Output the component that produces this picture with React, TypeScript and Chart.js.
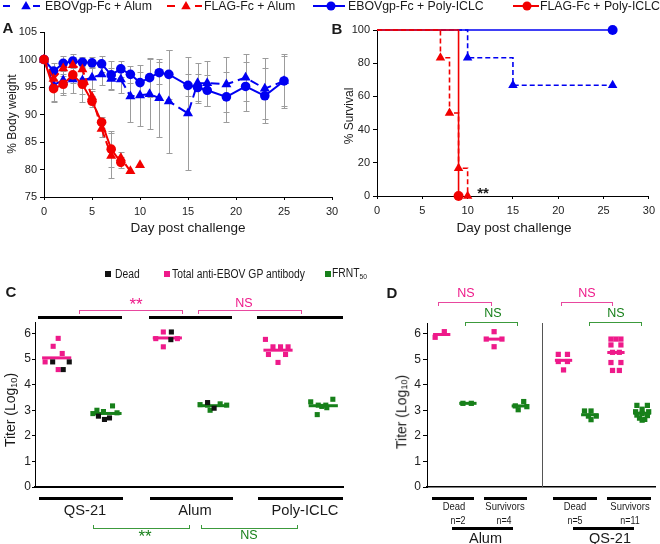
import React, { useEffect, useRef } from 'react';
import { Chart, registerables } from 'chart.js';

Chart.register(...registerables);

type Pt = [number, number]; // [value, horizontal jitter]

// ---------- Panel A: % body weight ----------
const daysEbov = [0, 1, 2, 3, 4, 5, 6, 7, 8, 9, 10, 11, 12, 13, 15, 16, 17, 19, 21, 23, 25];
const ebovAlumWeight = [100, 95.4, 96.2, 96.4, 96.2, 96.7, 97.3, 96.5, 96.4, 93.3, 93.5, 93.7, 93.0, 92.4, 90.2, 95.7, 95.7, 95.5, 96.7, 94.7, 96.1];
const ebovAlumSd = [0, 3.0, 2.6, 2.5, 2.5, 2.0, 2.0, 2.0, 2.5, 4.7, 5.5, 6.4, 7.0, 9.4, 10.3, 3.6, 4.1, 5.0, 4.3, 5.6, 4.5];
const ebovPolyWeight = [100, 97.9, 99.3, 99.7, 99.5, 99.4, 99.2, 97.2, 98.3, 97.3, 95.8, 96.7, 97.6, 97.3, 95.3, 94.9, 94.4, 93.2, 95.1, 93.4, 96.1];
const ebovPolySd = [0, 1.5, 1.4, 1.3, 1.0, 1.0, 1.5, 2.5, 1.5, 1.5, 2.0, 3.5, 2.0, 4.5, 2.0, 2.5, 2.8, 4.5, 4.5, 5.0, 4.9];
const daysFlagAlum = [0, 1, 2, 3, 4, 5, 6, 7, 8, 9, 10];
const flagAlumWeight = [100, 96.5, 98.4, 99.0, 98.2, 93.2, 87.4, 82.5, 82.1, 79.7, 80.8];
const flagAlumSd = [0, 1.5, 1.0, 1.5, 1.5, 1.0, 1.5, 4.1, 1.0, 0, 0];
const flagAlumLastLinked = 9; // day-10 point is drawn without a connecting line
const daysFlagPoly = [0, 1, 2, 3, 4, 5, 6, 7, 8];
const flagPolyWeight = [100, 94.7, 95.5, 97.2, 95.5, 92.4, 88.6, 83.7, 81.3];
const flagPolySd = [0, 2.5, 1.5, 1.5, 3.3, 1.0, 1.0, 3.3, 1.0];

// ---------- Panel B: % survival ----------
const survDaysEbovPoly = [0, 26];
const survEbovPoly = [100, 100];
const survDaysEbovAlum = [0, 10, 15, 26];
const survEbovAlum = [100, 83.3, 66.7, 66.7];
const survDaysFlagPoly = [0, 9];
const survFlagPoly = [100, 0];
const survDaysFlagAlum = [0, 7, 8, 9, 10];
const survFlagAlum = [100, 83.3, 50, 16.7, 0];

// ---------- Panel C: titers by adjuvant ----------
const cGroupNames = ['QS-21', 'Alum', 'Poly-ICLC'];
const cPositions = [0, 1, 2.2, 3.1, 4.4, 5.3];
const cAbQS21: Pt[] = [[5.81, 0.03], [5.5, -0.07], [5.22, 0.11], [4.89, -0.23], [4.59, 0.03]];
const cAbQS21Dead: Pt[] = [[4.89, -0.08], [4.89, 0.25], [4.59, 0.13]];
const cNtQS21: Pt[] = [[3.17, 0.11], [3.0, -0.2], [2.95, -0.07], [2.9, 0.2], [2.87, -0.28]];
const cNtQS21Dead: Pt[] = [[2.77, -0.17], [2.64, -0.05], [2.7, 0.05]];
const cAbAlum: Pt[] = [[6.06, -0.08], [5.8, -0.23], [5.8, 0.2], [5.48, -0.08]];
const cAbAlumDead: Pt[] = [[6.06, 0.08], [5.76, 0.07]];
const cNtAlum: Pt[] = [[3.22, -0.25], [3.2, -0.1], [3.25, 0.15], [3.2, 0.28], [3.0, -0.05]];
const cNtAlumDead: Pt[] = [[3.3, -0.1], [3.08, 0.03]];
const cAbPoly: Pt[] = [[5.77, -0.25], [5.48, -0.1], [5.48, 0.05], [5.48, 0.2], [5.18, -0.19], [5.18, 0.15], [4.87, 0]];
const cNtPoly: Pt[] = [[3.43, 0.19], [3.33, -0.25], [3.2, -0.1], [3.2, 0.05], [3.15, -0.03], [3.1, 0.07], [2.83, -0.12]];

// ---------- Panel D: dead vs survivors ----------
const dPositions = [0, 1, 2, 3, 4.65, 5.65, 6.65, 7.65];
const dAbAlumDead: Pt[] = [[5.87, -0.25], [6.09, 0.1]];
const dNtAlumDead: Pt[] = [[3.28, -0.19], [3.28, 0.13]];
const dAbAlumSurv: Pt[] = [[6.09, 0], [5.8, -0.3], [5.8, 0.3], [5.5, 0]];
const dNtAlumSurv: Pt[] = [[3.35, 0.13], [3.18, -0.19], [3.15, 0.25], [3.03, -0.08]];
const dAbQSDead: Pt[] = [[5.2, -0.2], [5.2, 0.15], [4.92, -0.2], [4.92, 0.15], [4.59, 0]];
const dNtQSDead: Pt[] = [[2.98, -0.2], [2.98, 0.05], [2.78, -0.05], [2.78, 0.25], [2.64, 0.05]];
const dAbQSSurv: Pt[] = [[5.8, -0.19], [5.8, 0], [5.8, 0.19], [5.57, -0.19], [5.57, 0.19], [5.28, -0.13], [5.28, 0.13], [4.88, -0.19], [4.88, 0.19], [4.57, -0.13], [4.57, 0.13]];
const dNtQSSurv: Pt[] = [[3.2, -0.2], [3.2, 0.2], [3.05, 0], [2.95, -0.25], [2.95, 0.25], [2.88, 0], [2.82, -0.2], [2.8, 0.2], [2.7, -0.1], [2.65, 0.1], [2.62, 0]];

// ---------- styles ----------
const FONT = '"Liberation Sans", Arial, Helvetica, sans-serif';
const BLUE = '#0000F2';
const RED = '#F20000';
const PINK = '#EE1A8A';
const GREEN = '#17801A';
const PINK_LINE = '#E8479E';
const GREEN_LINE = '#3C9A3C';
const GRAY = '#9C9C9C';
const TXT = '#1a1a1a';
const W = 660;
const H = 544;

const xy = (xs: number[], ys: number[]) => xs.map((x, i) => ({ x, y: ys[i] }));
const jit = (pos: number, pts: Pt[]) => pts.map(([v, j]) => ({ x: pos + j, y: v }));
const meanOf = (pts: Pt[]) => pts.reduce((s, p) => s + p[0], 0) / pts.length;

const baseOptions = (pad: any) => ({
  responsive: false,
  animation: false,
  events: [],
  layout: { padding: pad },
  plugins: { legend: { display: false }, tooltip: { enabled: false } },
});

const yAxis = (min: number, max: number, step: number, width: number, size: number, tl: number, pad: number) => ({
  type: 'linear',
  position: 'left',
  min,
  max,
  afterFit: (s: any) => { s.width = width; },
  ticks: { stepSize: step, includeBounds: false, font: { family: FONT, size }, color: '#222', padding: pad },
  grid: { display: true, drawOnChartArea: false, drawTicks: true, tickLength: tl, color: '#000', lineWidth: 1 },
  border: { display: true, color: '#000', width: 1 },
});

const xDayAxis = () => ({
  type: 'linear',
  position: 'bottom',
  min: 0,
  max: 30,
  afterFit: (s: any) => { s.height = 30; },
  ticks: { stepSize: 5, font: { family: FONT, size: 11 }, color: '#222', padding: 5, maxRotation: 0, autoSkip: false },
  grid: { display: true, drawOnChartArea: false, drawTicks: true, tickLength: 3, color: '#000', lineWidth: 1 },
  border: { display: true, color: '#000', width: 1 },
});

const xHiddenAxis = (min: number, max: number, bw: number) => ({
  type: 'linear',
  position: 'bottom',
  min,
  max,
  afterFit: (s: any) => { s.height = 2; },
  ticks: { display: false },
  grid: { display: false },
  border: { display: true, color: '#000', width: bw },
});

const errorBarPlugin = {
  id: 'errorBars',
  beforeDatasetsDraw(chart: any) {
    const ctx = chart.ctx;
    const ys = chart.scales.y;
    ctx.save();
    ctx.strokeStyle = GRAY;
    ctx.lineWidth = 1;
    chart.data.datasets.forEach((ds: any, i: number) => {
      const errs = ds.errors;
      if (!errs) return;
      const meta = chart.getDatasetMeta(i);
      meta.data.forEach((el: any, j: number) => {
        const e = errs[j];
        if (!e) return;
        const v = ds.data[j].y;
        const x = Math.round(el.x) + 0.5;
        const t = Math.round(ys.getPixelForValue(v + e)) + 0.5;
        const b = Math.round(ys.getPixelForValue(v - e)) + 0.5;
        ctx.beginPath();
        ctx.moveTo(x, t); ctx.lineTo(x, b);
        ctx.moveTo(x - 3, t); ctx.lineTo(x + 3, t);
        ctx.moveTo(x - 3, b); ctx.lineTo(x + 3, b);
        ctx.stroke();
      });
    });
    ctx.restore();
  },
};

const makeMeanPlugin = (items: { x: number; y: number; color: string }[], half: number, width: number, divider?: number) => ({
  id: 'meanLines',
  beforeDatasetsDraw(chart: any) {
    const { ctx, scales, chartArea } = chart;
    const xs = scales.x, ys = scales.y;
    ctx.save();
    if (divider !== undefined) {
      const dx = Math.round(xs.getPixelForValue(divider)) + 0.5;
      ctx.strokeStyle = '#555';
      ctx.lineWidth = 1;
      ctx.beginPath();
      ctx.moveTo(dx, chartArea.top);
      ctx.lineTo(dx, chartArea.bottom);
      ctx.stroke();
    }
    ctx.lineWidth = width;
    items.forEach((it) => {
      const yp = ys.getPixelForValue(it.y);
      ctx.strokeStyle = it.color;
      ctx.beginPath();
      ctx.moveTo(xs.getPixelForValue(it.x - half), yp);
      ctx.lineTo(xs.getPixelForValue(it.x + half), yp);
      ctx.stroke();
    });
    ctx.restore();
  },
});

// ---------- chart configs ----------
const configA = () => ({
  type: 'line',
  data: {
    datasets: [
      { data: xy(daysFlagPoly, flagPolyWeight), errors: flagPolySd, borderColor: RED, backgroundColor: RED, pointStyle: 'circle', pointRadius: 4.8, pointBorderWidth: 0, borderWidth: 2, order: 0, clip: false },
      {
        data: xy(daysFlagAlum, flagAlumWeight), errors: flagAlumSd, borderColor: RED, backgroundColor: RED, pointStyle: 'triangle', pointRadius: 5.8, pointBorderWidth: 0, borderWidth: 2, borderDash: [7, 4], order: 1, clip: false,
        segment: { borderColor: (c: any) => (daysFlagAlum[c.p1DataIndex] > flagAlumLastLinked ? 'rgba(0,0,0,0)' : RED) },
      },
      { data: xy(daysEbov, ebovPolyWeight), errors: ebovPolySd, borderColor: BLUE, backgroundColor: BLUE, pointStyle: 'circle', pointRadius: 4.8, pointBorderWidth: 0, borderWidth: 2, order: 2, clip: false },
      { data: xy(daysEbov, ebovAlumWeight), errors: ebovAlumSd, borderColor: BLUE, backgroundColor: BLUE, pointStyle: 'triangle', pointRadius: 5.8, pointBorderWidth: 0, borderWidth: 2, borderDash: [9, 5], order: 3, clip: false },
    ],
  },
  options: {
    ...baseOptions({ left: 4, top: 32, right: W - 332, bottom: H - 197 - 30 }),
    scales: { x: xDayAxis(), y: yAxis(75, 105, 5, 40, 11, 4, 3) },
  },
  plugins: [errorBarPlugin],
});

const survMarker = (r: number) => (c: any) => (c.dataIndex === 0 ? 0 : r);

const configB = () => ({
  type: 'line',
  data: {
    datasets: [
      { data: xy(survDaysFlagPoly, survFlagPoly), stepped: true, borderColor: RED, backgroundColor: RED, pointStyle: 'circle', pointRadius: survMarker(5), pointBorderWidth: 0, borderWidth: 1.6, order: 0, clip: false },
      { data: xy(survDaysFlagAlum, survFlagAlum), stepped: true, borderColor: RED, backgroundColor: RED, pointStyle: 'triangle', pointRadius: survMarker(5.5), pointBorderWidth: 0, borderWidth: 1.6, borderDash: [5, 3], order: 1, clip: false },
      { data: xy(survDaysEbovPoly, survEbovPoly), stepped: true, borderColor: BLUE, backgroundColor: BLUE, pointStyle: 'circle', pointRadius: survMarker(5), pointBorderWidth: 0, borderWidth: 1.6, order: 2, clip: false },
      { data: xy(survDaysEbovAlum, survEbovAlum), stepped: true, borderColor: BLUE, backgroundColor: BLUE, pointStyle: 'triangle', pointRadius: survMarker(5.5), pointBorderWidth: 0, borderWidth: 1.6, borderDash: [5, 3], order: 3, clip: false },
    ],
  },
  options: {
    ...baseOptions({ left: 377 - 40, top: 30, right: W - 651, bottom: H - 196 - 30 }),
    scales: { x: xDayAxis(), y: yAxis(0, 100, 20, 40, 11, 4, 3) },
  },
});

const cClusters = [
  { pos: cPositions[0], live: cAbQS21, dead: cAbQS21Dead, color: PINK },
  { pos: cPositions[1], live: cNtQS21, dead: cNtQS21Dead, color: GREEN },
  { pos: cPositions[2], live: cAbAlum, dead: cAbAlumDead, color: PINK },
  { pos: cPositions[3], live: cNtAlum, dead: cNtAlumDead, color: GREEN },
  { pos: cPositions[4], live: cAbPoly, dead: [] as Pt[], color: PINK },
  { pos: cPositions[5], live: cNtPoly, dead: [] as Pt[], color: GREEN },
];

const dClusters = [
  { pos: dPositions[0], live: dAbAlumDead, color: PINK },
  { pos: dPositions[1], live: dNtAlumDead, color: GREEN },
  { pos: dPositions[2], live: dAbAlumSurv, color: PINK },
  { pos: dPositions[3], live: dNtAlumSurv, color: GREEN },
  { pos: dPositions[4], live: dAbQSDead, color: PINK },
  { pos: dPositions[5], live: dNtQSDead, color: GREEN },
  { pos: dPositions[6], live: dAbQSSurv, color: PINK },
  { pos: dPositions[7], live: dNtQSSurv, color: GREEN },
];

const sq = (color: string, r: number, order: number, data: any[]) => ({
  data, backgroundColor: color, borderColor: color, pointStyle: 'rect', pointRadius: r, pointBorderWidth: 0, order, clip: false,
});

const configC = () => {
  const pink = cClusters.filter((c) => c.color === PINK).flatMap((c) => jit(c.pos, c.live));
  const green = cClusters.filter((c) => c.color === GREEN).flatMap((c) => jit(c.pos, c.live));
  const dead = cClusters.flatMap((c) => jit(c.pos, c.dead));
  const means = cClusters.map((c) => ({ x: c.pos, y: meanOf([...c.live, ...c.dead]), color: c.color }));
  return {
    type: 'scatter',
    data: { datasets: [sq('#111', 3.6, 0, dead), sq(PINK, 3.6, 1, pink), sq(GREEN, 3.6, 2, green)] },
    options: {
      ...baseOptions({ left: 0, top: 322, right: W - 343, bottom: H - 487 - 2 }),
      scales: { x: xHiddenAxis(-0.431, 5.692, 2), y: yAxis(0, 6.45, 1, 35, 12, 3, 1) },
    },
    plugins: [makeMeanPlugin(means, 0.29, 3)],
  };
};

const configD = () => {
  const pink = dClusters.filter((c) => c.color === PINK).flatMap((c) => jit(c.pos, c.live));
  const green = dClusters.filter((c) => c.color === GREEN).flatMap((c) => jit(c.pos, c.live));
  const means = dClusters.map((c) => ({ x: c.pos, y: meanOf(c.live), color: c.color }));
  const divider = (dPositions[3] + dPositions[4]) / 2;
  return {
    type: 'scatter',
    data: { datasets: [sq(PINK, 3.7, 1, pink), sq(GREEN, 3.7, 2, green)] },
    options: {
      ...baseOptions({ left: 427 - 40, top: 323, right: W - 655, bottom: H - 487 - 2 }),
      scales: { x: xHiddenAxis(-0.561, 8.141, 1.5), y: yAxis(0, 6.43, 1, 40, 12, 4, 2) },
    },
    plugins: [makeMeanPlugin(means, 0.33, 3, divider)],
  };
};

// ---------- React pieces ----------
function ChartLayer({ make }: { make: () => any }) {
  const ref = useRef<HTMLCanvasElement | null>(null);
  useEffect(() => {
    const chart = new Chart(ref.current as HTMLCanvasElement, make());
    return () => chart.destroy();
  }, []);
  return <canvas ref={ref} width={W} height={H} style={{ position: 'absolute', left: 0, top: 0, width: W, height: H }} />;
}

function Label(props: any) {
  const { x, y, size, children, color = TXT, weight = 400, rotate = false, start = false, sx = 1 } = props;
  const tf = [start ? 'translate(0,-50%)' : 'translate(-50%,-50%)', rotate ? 'rotate(-90deg)' : '', sx !== 1 ? `scaleX(${sx})` : '']
    .filter(Boolean)
    .join(' ');
  return (
    <div
      style={{
        position: 'absolute', left: x, top: y, transform: tf, transformOrigin: start ? 'left center' : 'center center',
        fontFamily: FONT, fontSize: size, fontWeight: weight, color, whiteSpace: 'nowrap', lineHeight: 1,
      }}
    >
      {children}
    </div>
  );
}

function Bar({ x1, x2, y, h = 3, color = '#000' }: any) {
  return <div style={{ position: 'absolute', left: x1, top: y, width: x2 - x1, height: h, background: color }} />;
}

function Bracket({ x1, x2, y, h = 3, color, up = false }: any) {
  const side = `1px solid ${color}`;
  return (
    <div
      style={{
        position: 'absolute', left: x1, top: up ? y - h : y, width: x2 - x1, height: h + 1, boxSizing: 'border-box',
        borderLeft: side, borderRight: side, borderTop: up ? 'none' : side, borderBottom: up ? side : 'none',
      }}
    />
  );
}

function Swatch({ x, y, color }: any) {
  return <div style={{ position: 'absolute', left: x, top: y, width: 6, height: 6, background: color }} />;
}

const tri = (cx: number, cy: number, r: number) =>
  `${cx},${cy - r} ${cx + r * 0.866},${cy + r * 0.5} ${cx - r * 0.866},${cy + r * 0.5}`;

function TopLegend() {
  return (
    <svg width={W} height={14} style={{ position: 'absolute', left: 0, top: 0 }}>
      <line x1={3} x2={10} y1={6} y2={6} stroke={BLUE} strokeWidth={2} />
      <line x1={33} x2={40} y1={6} y2={6} stroke={BLUE} strokeWidth={2} />
      <polygon points={tri(26, 6.5, 5.5)} fill={BLUE} />
      <line x1={167} x2={175} y1={6} y2={6} stroke={RED} strokeWidth={2} />
      <line x1={195} x2={202} y1={6} y2={6} stroke={RED} strokeWidth={2} />
      <polygon points={tri(186, 6.5, 5.5)} fill={RED} />
      <line x1={313} x2={345} y1={6} y2={6} stroke={BLUE} strokeWidth={2} />
      <circle cx={331} cy={6} r={4.5} fill={BLUE} />
      <line x1={513} x2={539} y1={6} y2={6} stroke={RED} strokeWidth={2} />
      <circle cx={527} cy={6} r={4.5} fill={RED} />
    </svg>
  );
}

const Sub = ({ children }: any) => <span style={{ fontSize: '0.65em', verticalAlign: '-0.15em' }}>{children}</span>;

export default function App() {
  const LS = 12.3;
  return (
    <div style={{ position: 'absolute', left: 0, top: 0, width: W, height: H, background: '#fff', overflow: 'hidden' }}>
      <ChartLayer make={configA} />
      <ChartLayer make={configB} />
      <ChartLayer make={configC} />
      <ChartLayer make={configD} />

      <TopLegend />
      <Label x={45} y={6} size={LS} start>EBOVgp-Fc + Alum</Label>
      <Label x={204} y={6} size={LS} start>FLAG-Fc + Alum</Label>
      <Label x={348} y={6} size={LS} start>EBOVgp-Fc + Poly-ICLC</Label>
      <Label x={540} y={6} size={LS} start>FLAG-Fc + Poly-ICLC</Label>

      <Label x={8} y={27} size={15} weight={700}>A</Label>
      <Label x={337} y={28} size={15} weight={700}>B</Label>
      <Label x={11} y={291} size={15} weight={700}>C</Label>
      <Label x={392} y={292} size={15} weight={700}>D</Label>

      <Label x={11.5} y={114} size={12} rotate>% Body weight</Label>
      <Label x={349} y={116} size={12} rotate>% Survival</Label>
      <Label x={188} y={228} size={13.5}>Day post challenge</Label>
      <Label x={514} y={228} size={13.5}>Day post challenge</Label>
      <Label x={483} y={192} size={15} weight={700}>**</Label>

      {/* Panel C legend */}
      <Swatch x={105} y={271} color="#111" />
      <Label x={115} y={274} size={12.3} sx={0.84} start>Dead</Label>
      <Swatch x={164} y={271} color={PINK} />
      <Label x={172} y={274} size={12.3} sx={0.84} start>Total anti-EBOV GP antibody</Label>
      <Swatch x={325} y={271} color={GREEN} />
      <Label x={332} y={274} size={12.3} sx={0.84} start>FRNT<Sub>50</Sub></Label>

      {/* Panel C annotations */}
      <Bracket x1={79} x2={183} y={310} color={PINK_LINE} />
      <Label x={136} y={304} size={17} color={PINK}>**</Label>
      <Bracket x1={198} x2={302} y={310} color={PINK_LINE} />
      <Label x={244} y={303} size={12.5} color={PINK}>NS</Label>
      <Bar x1={38} x2={122} y={316} />
      <Bar x1={149} x2={232} y={316} />
      <Bar x1={257} x2={343} y={316} />
      <Bar x1={39} x2={123} y={497} />
      <Bar x1={150} x2={233} y={497} />
      <Bar x1={258} x2={343} y={497} />
      <Label x={85} y={510} size={14.7}>{cGroupNames[0]}</Label>
      <Label x={195} y={510} size={14.7}>{cGroupNames[1]}</Label>
      <Label x={305} y={510} size={14.7}>{cGroupNames[2]}</Label>
      <Bracket x1={93} x2={190} y={528} color={GREEN_LINE} up />
      <Label x={145} y={536} size={17} color={GREEN}>**</Label>
      <Bracket x1={201} x2={298} y={528} color={GREEN_LINE} up />
      <Label x={249} y={535} size={12.5} color={GREEN}>NS</Label>
      <Label x={11} y={410} size={14} rotate>Titer (Log<Sub>10</Sub>)</Label>

      {/* Panel D annotations */}
      <Bracket x1={438} x2={492} y={302} color={PINK_LINE} />
      <Label x={466} y={293} size={12.5} color={PINK}>NS</Label>
      <Bracket x1={561} x2={613} y={302} color={PINK_LINE} />
      <Label x={587} y={293} size={12.5} color={PINK}>NS</Label>
      <Bracket x1={465} x2={518} y={322} color={GREEN_LINE} />
      <Label x={493} y={313} size={12.5} color={GREEN}>NS</Label>
      <Bracket x1={589} x2={642} y={322} color={GREEN_LINE} />
      <Label x={616} y={313} size={12.5} color={GREEN}>NS</Label>
      <Bar x1={432} x2={474} y={497} />
      <Bar x1={484} x2={527} y={497} />
      <Bar x1={553} x2={597} y={497} />
      <Bar x1={607} x2={651} y={497} />
      <Label x={454} y={507} size={11.5} sx={0.82}>Dead</Label>
      <Label x={505} y={507} size={11.5} sx={0.82}>Survivors</Label>
      <Label x={575} y={507} size={11.5} sx={0.82}>Dead</Label>
      <Label x={630} y={507} size={11.5} sx={0.82}>Survivors</Label>
      <Label x={458} y={519.5} size={10.5} sx={0.85}>n=2</Label>
      <Label x={504} y={519.5} size={10.5} sx={0.85}>n=4</Label>
      <Label x={575} y={519.5} size={10.5} sx={0.85}>n=5</Label>
      <Label x={630} y={519.5} size={10.5} sx={0.85}>n=11</Label>
      <Bar x1={452} x2={513} y={527} />
      <Bar x1={573} x2={634} y={527} />
      <Label x={485.5} y={538} size={14.5}>Alum</Label>
      <Label x={610} y={538} size={14.5}>QS-21</Label>
      <Label x={402} y={412} size={14} rotate>Titer (Log<Sub>10</Sub>)</Label>
    </div>
  );
}
